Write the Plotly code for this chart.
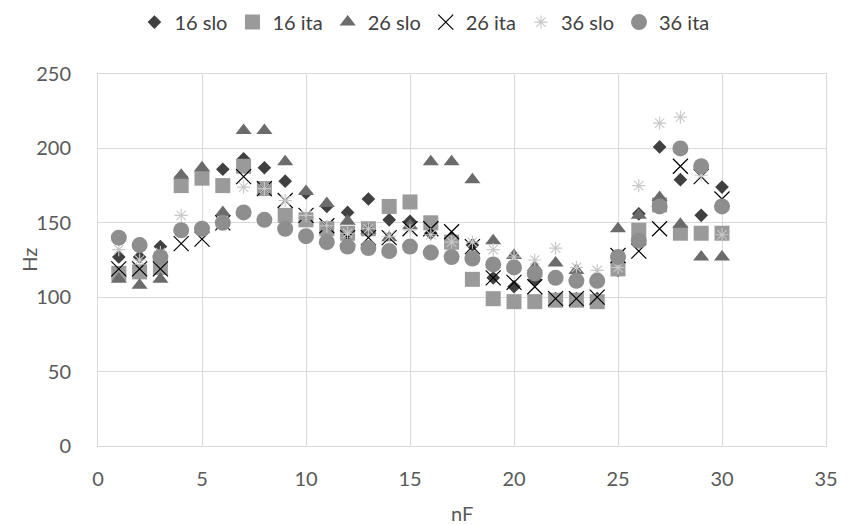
import plotly.graph_objects as go

# Frequency (Hz) per nF step, six series
nF = list(range(1, 31))

slo_16 = [127, 127, 134, 181, 185, 186, 193, 187, 178, 170,
          161, 157, 166, 152, 151, 143, 140, 135, 113, 107,
          112, 99, 99, 99, 118, 156, 201, 179, 155, 174]
ita_16 = [116, 117, 120, 175, 180, 175, 188, 173, 155, 152,
          146, 143, 146, 161, 164, 150, 137, 112, 99, 97,
          97, 98, 98, 97, 119, 145, 162, 143, 143, 143]
slo_26 = [112, 108, 112, 182, 187, 157, 212, 212, 191, 171,
          163, 151, 145, 140, 148, 191, 191, 179, 138, 128,
          120, 123, 118, 112, 146, 155, 167, 149, 127, 127]
ita_26 = [119, 119, 119, 136, 139, 150, 181, 173, 165, 155,
          148, 140, 140, 140, 146, 146, 144, 134, 113, 110,
          107, 99, 99, 100, 128, 131, 146, 188, 181, 166]
slo_36 = [132, 125, 130, 155, 145, 150, 174, 173, 165, 155,
          148, 143, 146, 141, 145, 142, 137, 137, 132, 127,
          125, 133, 120, 118, 120, 175, 217, 221, 182, 142]
ita_36 = [140, 135, 127, 145, 146, 150, 157, 152, 146, 141,
          137, 134, 133, 131, 134, 130, 127, 126, 122, 120,
          116, 113, 111, 111, 127, 138, 161, 200, 188, 161]

series_names = ["16 slo", "16 ita", "26 slo", "26 ita", "36 slo", "36 ita"]
series_values = [slo_16, ita_16, slo_26, ita_26, slo_36, ita_36]

marker_styles = [
    dict(symbol="diamond", size=10.5, color="#404040"),
    dict(symbol="square", size=15, color="#9a9a9a"),
    dict(symbol="triangle-up", size=14, color="#6b6b6b"),
    dict(symbol="x-thin-open", size=15, color="#000000", line=dict(width=1.2, color="#000000")),
    dict(symbol="asterisk-open", size=11, color="#c8c8c8", line=dict(width=1.1, color="#c8c8c8")),
    dict(symbol="circle", size=16, color="#8e8e8e"),
]

fig = go.Figure()
for name, vals, mk in zip(series_names, series_values, marker_styles):
    fig.add_trace(go.Scatter(x=nF, y=vals, mode="markers", name=name,
                             marker=mk, cliponaxis=False))

grid = "#d9d9d9"
txt = "#595959"
font = "Lato, 'Open Sans', sans-serif"
fs = 20

fig.update_layout(
    width=850, height=524,
    margin=dict(l=98, r=16, t=74, b=78),
    paper_bgcolor="white", plot_bgcolor="white",
    font=dict(family=font, size=fs, color=txt),
    showlegend=True,
    legend=dict(orientation="h", x=(428 - 98) / 736, xanchor="center", y=0.995,
                yref="container", yanchor="top", font=dict(size=fs, color="#404040"),
                itemwidth=30, tracegroupgap=0),
    xaxis=dict(range=[0, 35], dtick=5, tick0=0, showgrid=True, gridcolor=grid,
               gridwidth=1, zeroline=False, showline=True, linecolor=grid,
               mirror=True, ticks="", ticklabelstandoff=15,
               tickfont=dict(size=fs, color=txt)),
    yaxis=dict(range=[0, 250], dtick=50, tick0=0, showgrid=True, gridcolor=grid,
               gridwidth=1, zeroline=False, showline=True, linecolor=grid,
               mirror=True, ticks="", ticklabelstandoff=22,
               tickfont=dict(size=fs, color=txt)),
    annotations=[
        dict(text="nF", xref="paper", yref="paper", x=0.5, y=(524 - 513 - 78) / 372,
             xanchor="center", yanchor="middle", showarrow=False,
             font=dict(size=fs, color=txt)),
        dict(text="Hz", xref="paper", yref="paper", x=(28 - 98) / 736, y=0.5,
             xanchor="center", yanchor="middle", showarrow=False, textangle=-90,
             font=dict(size=fs, color=txt)),
    ],
)

fig.write_html("out.html")
